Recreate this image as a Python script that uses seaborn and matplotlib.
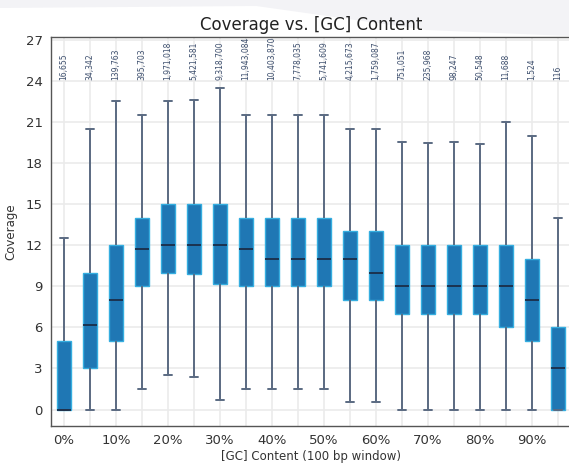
import numpy as np
import pandas as pd
import matplotlib
matplotlib.use("Agg")
import matplotlib.pyplot as plt
import seaborn as sns
from matplotlib.patches import Polygon

# GC content bins (5% steps) and number of windows in each bin
gc_bins = ["0%", "5%", "10%", "15%", "20%", "25%", "30%", "35%", "40%", "45%",
           "50%", "55%", "60%", "65%", "70%", "75%", "80%", "85%", "90%", "95%"]
window_counts = ["16,655", "34,342", "139,763", "395,703", "1,971,018", "5,421,581",
                 "9,318,700", "11,943,084", "10,403,870", "7,778,035", "5,741,609",
                 "4,215,673", "1,759,087", "751,051", "235,968", "98,247", "50,548",
                 "11,688", "1,524", "116"]

# five-number summary of coverage per bin
whisker_low = [0, 0, 0, 1.5, 2.5, 2.4, 0.7, 1.5, 1.5, 1.5,
               1.5, 0.55, 0.55, 0, 0, 0, 0, 0, 0, 0]
q1 = [0, 3, 5, 9, 10, 9.9, 9.2, 9, 9, 9,
      9, 8, 8, 7, 7, 7, 7, 6, 5, 0]
median = [0, 6.15, 8, 11.7, 12, 12, 12, 11.7, 11, 11,
          11, 11, 10, 9, 9, 9, 9, 9, 8, 3]
q3 = [5, 10, 12, 14, 15, 15, 15, 14, 14, 14,
      14, 13, 13, 12, 12, 12, 12, 12, 11, 6]
whisker_high = [12.5, 20.5, 22.5, 21.5, 22.5, 22.6, 23.5, 21.5, 21.5, 21.5,
                21.5, 20.5, 20.5, 19.5, 19.45, 19.5, 19.4, 21.0, 20.0, 14.0]

# each bin as its five summary values -> boxplot with whis=(0, 100) gives back the same box
rows = []
for i, label in enumerate(gc_bins):
    for v in (whisker_low[i], q1[i], median[i], q3[i], whisker_high[i]):
        rows.append({"gc": label, "coverage": v})
df = pd.DataFrame(rows)

sns.set_theme(style="whitegrid")
plt.rcParams["font.family"] = ["DejaVu Sans"]

fig = plt.figure(figsize=(5.69, 4.63), dpi=100)
fig.patch.set_facecolor("white")
# light screenshot band at the top
fig.patches.append(Polygon([(0, 1), (1, 1), (1, 1 - 36 / 463), (0.75, 1 - 30 / 463),
                            (0.45, 1 - 6 / 463), (0, 1 - 8 / 463)],
                           closed=True, transform=fig.transFigure,
                           facecolor="#f3f3f6", edgecolor="none", zorder=-1))

ax = fig.add_axes([51 / 569, 37 / 463, 520 / 569, 389 / 463])

sns.boxplot(data=df, x="gc", y="coverage", order=gc_bins, whis=(0, 100),
            width=0.54, color="#1f77b4", saturation=1, linecolor="#5a6a82",
            linewidth=1.4, fliersize=0, ax=ax,
            boxprops=dict(edgecolor="#35aee0", linewidth=1.0),
            medianprops=dict(color="#1b2d48", linewidth=1.3),
            whiskerprops=dict(color="#5a6a82", linewidth=1.4),
            capprops=dict(color="#5a6a82", linewidth=1.4))

for i, c in enumerate(window_counts):
    ax.text(i, 24.05, c, rotation=90, ha="center", va="bottom",
            fontsize=5.5, color="#3d4f6e")

ax.set_xlim(-0.5, 19.5)
ax.set_ylim(-1.2, 27.2)
ax.set_yticks(range(0, 28, 3))
ax.set_xticks(range(len(gc_bins)))
ax.set_xticklabels([lab if i % 2 == 0 else "" for i, lab in enumerate(gc_bins)])

ax.grid(True, color="#ebebeb", linewidth=1.2)
ax.set_axisbelow(True)
for side in ["left", "bottom", "top"]:
    ax.spines[side].set_color("#555555")
    ax.spines[side].set_linewidth(1.0)
ax.spines["right"].set_visible(False)
ax.tick_params(axis="both", length=3, width=1, color="#555555",
               labelsize=9.5, labelcolor="#333333", pad=3)

ax.set_title("Coverage vs. [GC] Content", fontsize=12, pad=5, color="#222222")
ax.set_xlabel("[GC] Content (100 bp window)", fontsize=8.5, color="#333333", labelpad=2)
ax.set_ylabel("Coverage", fontsize=8.5, color="#333333", labelpad=6)

fig.savefig("out.png", dpi=100)
